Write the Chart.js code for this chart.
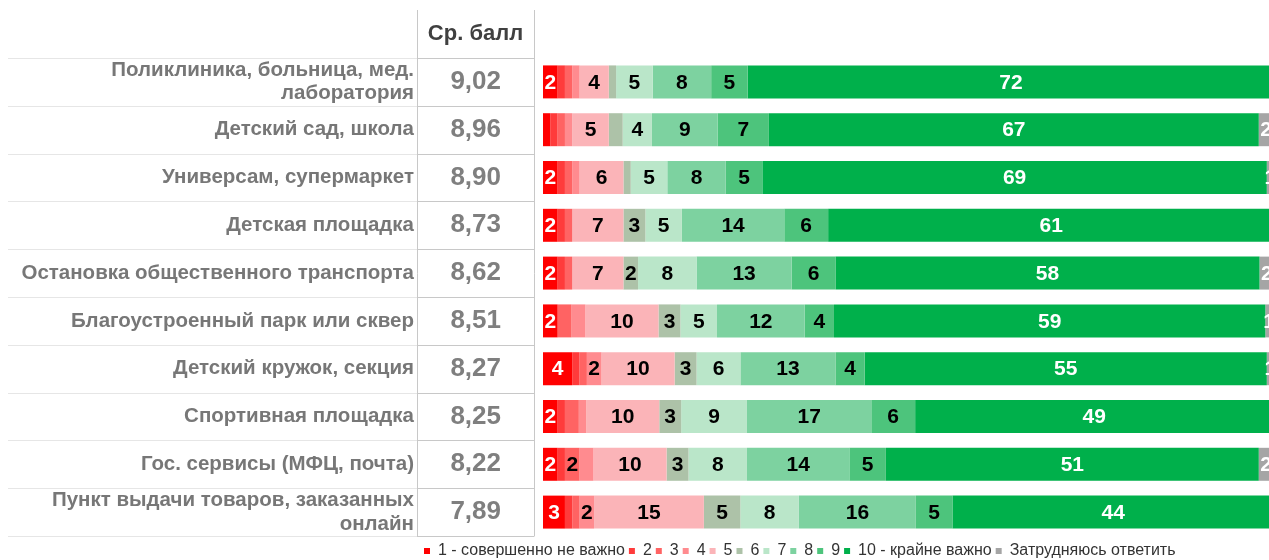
<!DOCTYPE html>
<html lang="ru">
<head>
    <meta charset="UTF-8">
    <title>Важность объектов инфраструктуры</title>
    <script src="https://cdn.jsdelivr.net/npm/chart.js"></script>
    <style>
        body { margin: 0; padding: 0; background: #fff; overflow: hidden; }
        #chartContainer { position: relative; width: 1269px; height: 560px; }
    </style>
</head>
<body>
    <div id="chartContainer">
        <canvas id="scoreChart"></canvas>
    </div>

    <script>
        // categories (rows, top to bottom)
        const categories = [
            ['Поликлиника, больница, мед.', 'лаборатория'],
            'Детский сад, школа',
            'Универсам, супермаркет',
            'Детская площадка',
            'Остановка общественного транспорта',
            'Благоустроенный парк или сквер',
            'Детский кружок, секция',
            'Спортивная площадка',
            'Гос. сервисы (МФЦ, почта)',
            ['Пункт выдачи товаров, заказанных', 'онлайн']
        ];
        const avgScores = ['9,02', '8,96', '8,90', '8,73', '8,62', '8,51', '8,27', '8,25', '8,22', '7,89'];

        // share of answers, % (one array per score)
        const score1  = [2, 1, 2, 2, 2, 2, 4, 2, 2, 3];
        const score2  = [1, 1, 1, 1, 1, 0, 1, 1, 1, 1];
        const score3  = [1, 1, 1, 1, 1, 1.9, 1, 1.9, 2, 1];
        const score4  = [1, 1, 1, 0, 0, 1.9, 2, 1, 1.9, 2];
        const score5  = [4, 5, 6, 7, 7, 10, 10, 10, 10, 15];
        const score6  = [1, 1.9, 1, 3, 2, 3, 3, 3, 3, 5];
        const score7  = [5, 4, 5, 5, 8, 5, 6, 9, 8, 8];
        const score8  = [8, 9, 8, 14, 13, 12, 13, 17, 14, 16];
        const score9  = [5, 7, 5, 6, 6, 4, 4, 6, 5, 5];
        const score10 = [72, 67, 69, 61, 58, 59, 55, 49, 51, 44];
        const noAnswer = [0, 2, 1, 0, 2, 1, 1, 0, 2, 0];

        const seriesNames = ['1 - совершенно не важно', '2', '3', '4', '5', '6', '7', '8', '9', '10 - крайне важно', 'Затрудняюсь ответить'];
        const seriesData = [score1, score2, score3, score4, score5, score6, score7, score8, score9, score10, noAnswer];
        const seriesColors = ['#ff0000', '#ff3b3b', '#ff6363', '#ff8b8f', '#fbb4b8', '#adc2a8', '#bae6c9', '#7dd2a0', '#4dc47c', '#00b04b', '#a5a5a5'];
        const whiteLabelSeries = [0, 9, 10];

        const labelColWidth = 417;
        const avgColWidth = 117;

        // value labels inside the bars
        const barLabels = {
            id: 'barLabels',
            afterDatasetsDraw(chart) {
                const ctx = chart.ctx;
                ctx.save();
                ctx.font = 'bold 21px "Liberation Sans", Arial, sans-serif';
                ctx.textAlign = 'center';
                ctx.textBaseline = 'middle';
                chart.data.datasets.forEach((ds, i) => {
                    const meta = chart.getDatasetMeta(i);
                    const isGray = i === 10;
                    meta.data.forEach((bar, j) => {
                        const v = ds.data[j];
                        if (isGray ? v < 1 : v < 2) return;
                        ctx.fillStyle = whiteLabelSeries.includes(i) ? '#ffffff' : '#000000';
                        ctx.fillText(Math.round(v), (bar.x + bar.base) / 2, bar.y + 1);
                    });
                });
                ctx.restore();
            }
        };

        // table grid on the left + header
        const tableGrid = {
            id: 'tableGrid',
            afterDraw(chart) {
                const ctx = chart.ctx;
                const y = chart.scales.y;
                const colLeft = chart.scales.y2.left;
                const colRight = colLeft + avgColWidth;
                const bottom = chart.chartArea.bottom;
                ctx.save();
                ctx.lineWidth = 1;
                for (let j = 0; j <= categories.length; j++) {
                    const py = Math.round(y.getPixelForValue(j - 0.5)) + 0.5;
                    ctx.strokeStyle = '#e6e6e6';
                    ctx.beginPath();
                    ctx.moveTo(8, py);
                    ctx.lineTo(colLeft, py);
                    ctx.stroke();
                    ctx.strokeStyle = '#c8c8c8';
                    ctx.beginPath();
                    ctx.moveTo(colLeft, py);
                    ctx.lineTo(colRight, py);
                    ctx.stroke();
                }
                ctx.strokeStyle = '#c8c8c8';
                [colLeft, colRight].forEach(px => {
                    ctx.beginPath();
                    ctx.moveTo(Math.round(px) + 0.5, 10);
                    ctx.lineTo(Math.round(px) + 0.5, Math.round(bottom) + 0.5);
                    ctx.stroke();
                });
                ctx.fillStyle = '#404040';
                ctx.font = 'bold 22px "Liberation Sans", Arial, sans-serif';
                ctx.textAlign = 'center';
                ctx.textBaseline = 'middle';
                ctx.fillText('Ср. балл', (colLeft + colRight) / 2, 34);
                ctx.restore();
            }
        };

        // place the legend under the table/bars as in the original
        const legendShift = {
            id: 'legendShift',
            afterLayout(chart) {
                const lg = chart.legend;
                lg.left = 424 - lg.options.labels.padding;
                lg.top += 3;
                lg.bottom += 3;
            }
        };

        function fixAxis(width) {
            return scale => {
                scale.width = width;
                scale.paddingTop = 0;
                scale.paddingBottom = 0;
            };
        }

        const ctx = document.getElementById('scoreChart').getContext('2d');
        const chart = new Chart(ctx, {
            type: 'bar',
            data: {
                labels: categories,
                datasets: seriesNames.map((name, i) => ({
                    label: name,
                    data: seriesData[i],
                    backgroundColor: seriesColors[i],
                    borderWidth: 0,
                    yAxisID: 'y',
                    barPercentage: 0.69,
                    categoryPercentage: 1.0
                }))
            },
            options: {
                indexAxis: 'y',
                responsive: true,
                maintainAspectRatio: false,
                animation: false,
                layout: { padding: { top: 58, left: 0, right: 0, bottom: -6 } },
                scales: {
                    x: { stacked: true, min: 0, max: 99.3, display: false },
                    y: {
                        stacked: true,
                        position: 'left',
                        weight: 2,
                        grid: { display: false, drawTicks: false },
                        border: { display: false },
                        ticks: {
                            autoSkip: false,
                            color: '#777777',
                            padding: 3,
                            font: { family: '"Liberation Sans", Arial, sans-serif', size: 20.5, weight: 'bold', lineHeight: 1.15 }
                        },
                        afterFit: fixAxis(labelColWidth)
                    },
                    y2: {
                        type: 'category',
                        labels: avgScores,
                        position: 'left',
                        weight: 1,
                        offset: true,
                        grid: { display: false, drawTicks: false },
                        border: { display: false },
                        ticks: {
                            autoSkip: false,
                            color: '#7f7f7f',
                            padding: 42,
                            crossAlign: 'center',
                            font: { family: '"Liberation Sans", Arial, sans-serif', size: 26, weight: 'bold' }
                        },
                        afterFit: fixAxis(126)
                    }
                },
                plugins: {
                    legend: {
                        position: 'bottom',
                        align: 'start',
                        labels: {
                            color: '#333333',
                            boxWidth: 6,
                            boxHeight: 6,
                            padding: 4,
                            font: { family: '"Liberation Sans", Arial, sans-serif', size: 16, lineHeight: 1.1 }
                        }
                    },
                    tooltip: { enabled: false }
                }
            },
            plugins: [barLabels, tableGrid, legendShift]
        });
    </script>
</body>
</html>
